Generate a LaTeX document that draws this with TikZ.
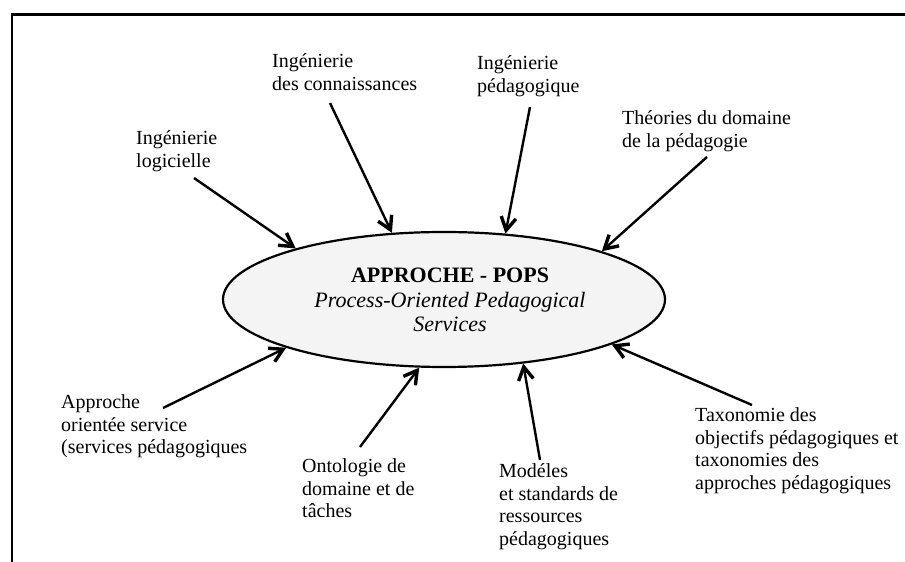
\documentclass[tikz,border=0pt]{standalone}
\usepackage{fontspec}
\setmainfont{Liberation Serif}
\usetikzlibrary{arrows.meta,shapes.geometric}
\definecolor{popsfill}{HTML}{F4F4F4}
\tikzset{
  lbl/.style={anchor=base west,align=left,inner sep=0pt,font=\fontsize{20}{22.5}\selectfont},
  feed/.style={line width=2.4pt,-{Straight Barb[length=13pt,width=15pt,line width=3.4pt]}},
  framefg/.style={line width=2.8pt},
}
\begin{document}
\begin{tikzpicture}[x=1pt,y=1pt]
\useasboundingbox (0,0) rectangle (905,562);
\draw[framefg] (12,0) -- (12,547.5) -- (905,547.5);
\node[ellipse,draw,line width=2.2pt,fill=popsfill,minimum width=442pt,minimum height=135pt,inner sep=0pt] (pops) at (444,262.5) {};
\node[anchor=base,align=center,inner sep=0pt,font=\fontsize{22}{24.5}\selectfont] (popstext) at (450,230)
  {\textbf{APPROCHE - POPS}\\\textit{Process-Oriented Pedagogical}\\\textit{Services}};
\node[lbl] (l1) at (136,394.5) {Ingénierie\\logicielle};
\node[lbl] (l2) at (272,471.5) {Ingénierie\\des connaissances};
\node[lbl] (l3) at (477,469.5) {Ingénierie\\pédagogique};
\node[lbl] (l4) at (622,414.5) {Théories du domaine\\de la pédagogie};
\node[lbl] (l5) at (61,108) {Approche\\orientée service\\(services pédagogiques};
\node[lbl] (l6) at (302,44) {Ontologie de\\domaine et de\\tâches};
\node[lbl] (l7) at (499,16.5) {Modéles\\et standards de\\ressources\\pédagogiques};
\node[lbl] (l8) at (695,72.5) {Taxonomie des\\objectifs pédagogiques et\\taxonomies des\\approches pédagogiques};
\coordinate (s1) at (194,384);
\coordinate (s2) at (330,459);
\coordinate (s3) at (530,455);
\coordinate (s4) at (707,405);
\coordinate (s5) at (163,154);
\coordinate (s6) at (360,115);
\coordinate (s7) at (540,102);
\coordinate (s8) at (752,157);
\draw[feed] (s1) -- (pops.161.7);
\draw[feed] (s2) -- (pops.128.9);
\draw[feed] (s3) -- (pops.47.9);
\draw[feed] (s4) -- (pops.17.9);
\draw[feed] (s5) -- (pops.-163.1);
\draw[feed] (s6) -- (pops.-110.8);
\draw[feed] (s7) -- (pops.-39.5);
\draw[feed] (s8) -- (pops.-15.8);
\end{tikzpicture}
\end{document}
